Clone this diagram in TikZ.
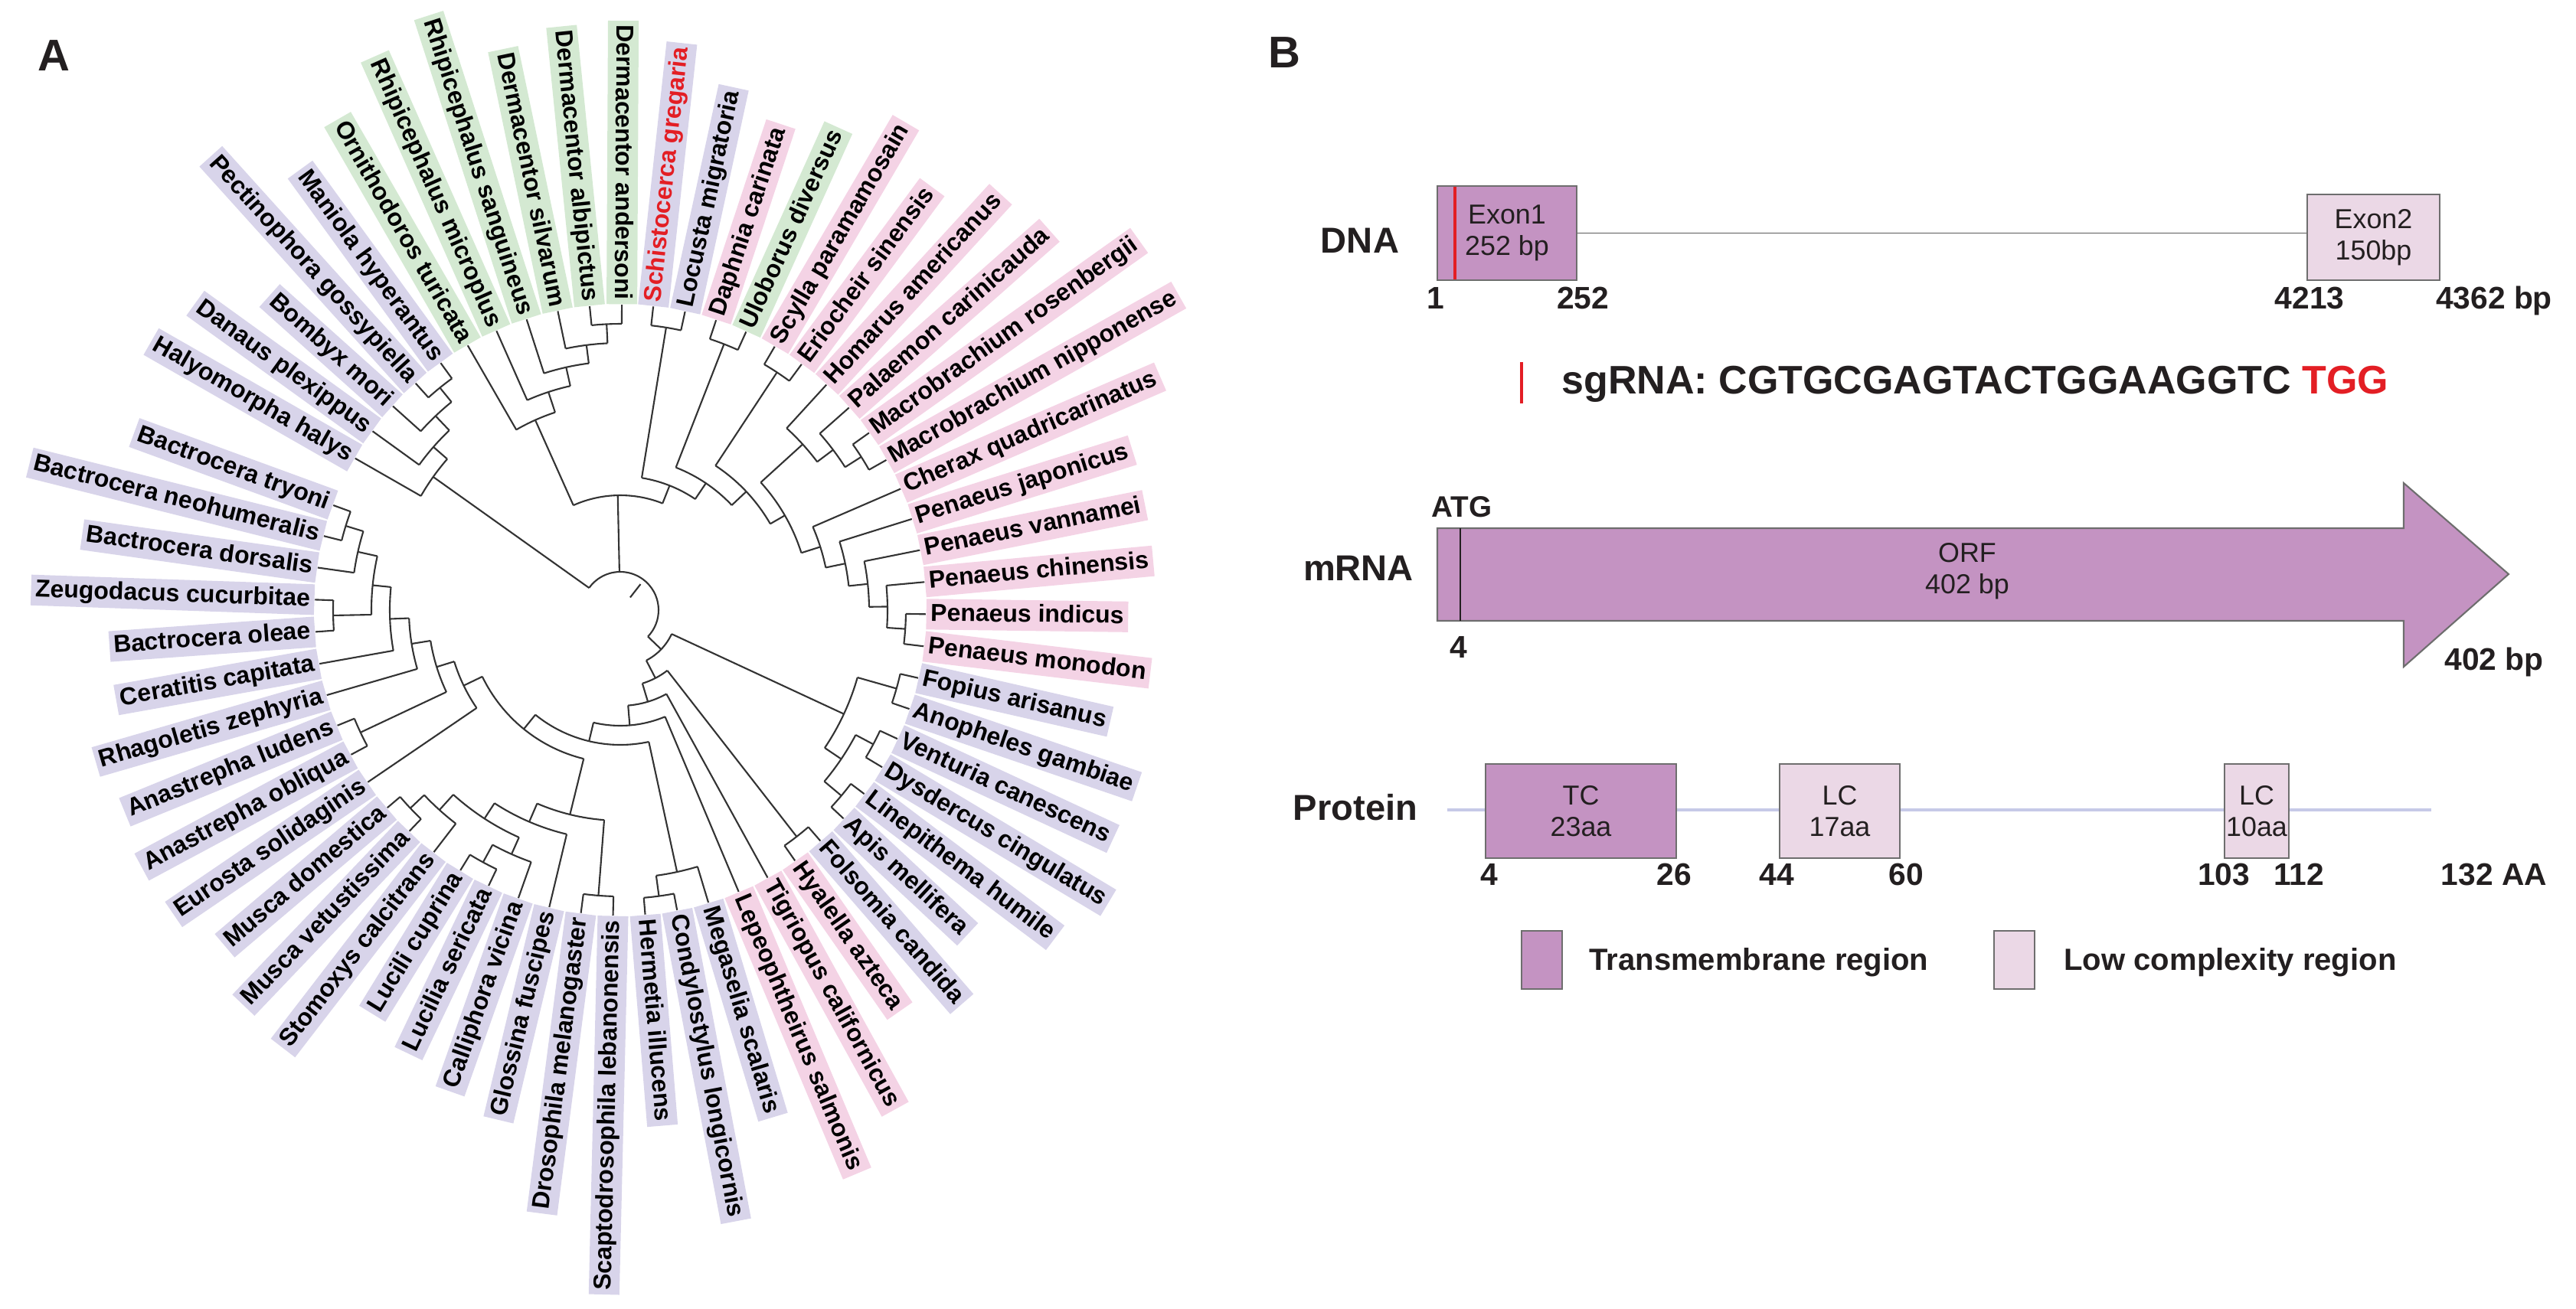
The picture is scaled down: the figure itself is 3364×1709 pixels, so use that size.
\documentclass[tikz,border=0pt]{standalone}
\usepackage{fontspec}
\setmainfont{Liberation Sans}

\definecolor{treeline}{HTML}{333333}
\definecolor{lav}{HTML}{D8D4EA}
\definecolor{pnk}{HTML}{F4D3E5}
\definecolor{grn}{HTML}{D4E9D2}
\definecolor{orf}{HTML}{C493C2}
\definecolor{lowc}{HTML}{EBD8E6}
\definecolor{boxgrey}{HTML}{6E6E6E}
\definecolor{protline}{HTML}{C6C9E7}
\definecolor{sgred}{HTML}{E31E24}
\definecolor{ink}{HTML}{231F20}

\newcommand\clade[3]{\draw[branch] (#2:#1) arc[start angle=#2, end angle=#3, radius=#1];}
\newcommand\twig[3]{\draw[branch] (#1:#2) -- (#1:#3);}
\newcommand\cherry[3]{\clade{#1}{#2}{#3}\twig{#2}{#1}{399}\twig{#3}{#1}{399}}

\begin{document}
\begin{tikzpicture}[x=0.1mm, y=0.1mm]
  \tikzstyle{branch} = [line width=0.6pt, draw=treeline]
  \tikzstyle{leaf label} = [font=\bfseries\fontsize{9.1}{10}\selectfont, text=black, inner xsep=1.6pt, inner ysep=0pt, minimum height=11.4pt, text height=6.9pt, text depth=2pt]
  \tikzstyle{panel letter} = [font=\bfseries\fontsize{16.5}{19}\selectfont, text=ink, anchor=base]
  \tikzstyle{row label} = [font=\bfseries\fontsize{13.4}{16}\selectfont, text=ink, anchor=base]
  \tikzstyle{pos num} = [font=\bfseries\fontsize{11.6}{14}\selectfont, text=ink, anchor=base]
  \tikzstyle{box text} = [font=\fontsize{10.2}{11.8}\selectfont, text=ink, align=center]
  \tikzstyle{region box} = [draw=boxgrey, line width=0.6pt, inner sep=0pt]
  \tikzstyle{legend text} = [font=\bfseries\fontsize{11.4}{14}\selectfont, text=ink, anchor=base west]

  \useasboundingbox (0,0) rectangle (3364,-1709);

  \node[panel letter] (panA) at (70,-92) {A};
  \node[panel letter] (panB) at (1677,-88) {B};

  % tree
  \begin{scope}[shift={(810,-797)}]
    \clade{50}{-43.79}{144.53}
    \twig{-43.79}{50}{74}
    \twig{91.25}{50}{150}
    \twig{144.53}{50}{300}
    \twig{52}{21}{43}

    \clade{300}{150.2}{138.86} \twig{150.2}{300}{399} \twig{138.86}{300}{324}
    \clade{324}{144.15}{133.56} \twig{144.15}{324}{399} \twig{133.56}{324}{350}
    \clade{350}{138.1}{129.03} \twig{138.1}{350}{399} \twig{129.03}{350}{374}
    \cherry{374}{132.05}{126.0}

    \clade{150}{114.09}{68.39} \twig{114.09}{150}{272} \twig{68.39}{150}{175}
    \clade{272}{119.95}{108.23} \twig{119.95}{272}{399} \twig{108.23}{272}{300}
    \clade{300}{113.9}{102.56} \twig{113.9}{300}{399} \twig{102.56}{300}{325}
    \clade{325}{107.85}{97.27} \twig{107.85}{325}{399} \twig{97.27}{325}{349}
    \clade{349}{101.8}{92.73} \twig{101.8}{349}{399} \twig{92.73}{349}{374}
    \cherry{374}{95.75}{89.7}

    \clade{175}{80.78}{55.99} \twig{80.78}{175}{374} \twig{55.99}{175}{200}
    \cherry{374}{83.8}{77.76}
    \clade{200}{68.7}{43.27} \twig{68.7}{200}{373} \twig{43.27}{200}{226}
    \cherry{373}{71.72}{65.68}
    \clade{226}{56.62}{29.92} \twig{56.62}{226}{372} \twig{29.92}{226}{248}
    \cherry{372}{59.64}{53.6}
    \clade{248}{42.28}{17.55} \twig{42.28}{248}{322} \twig{17.55}{248}{274}
    \clade{322}{47.56}{36.99} \twig{47.56}{322}{399} \twig{36.99}{322}{348}
    \clade{348}{41.52}{32.46} \twig{41.52}{348}{399} \twig{32.46}{348}{373}
    \cherry{373}{35.48}{29.44}
    \clade{274}{23.4}{11.7} \twig{23.4}{274}{399} \twig{11.7}{274}{300}
    \clade{300}{17.36}{6.04} \twig{17.36}{300}{399} \twig{6.04}{300}{325}
    \clade{325}{11.32}{0.75} \twig{11.32}{325}{399} \twig{0.75}{325}{349}
    \clade{349}{5.28}{-3.78} \twig{5.28}{349}{399} \twig{-3.78}{349}{373}
    \cherry{373}{-0.76}{-6.8}

    \clade{74}{-24.92}{-62.67} \twig{-24.92}{74}{322} \twig{-62.67}{74}{100}
    \clade{322}{-15.86}{-33.98} \twig{-15.86}{322}{375} \twig{-33.98}{322}{348}
    \cherry{375}{-12.84}{-18.88}
    \clade{348}{-27.94}{-40.02} \twig{-27.94}{348}{374} \twig{-40.02}{348}{377}
    \cherry{374}{-24.92}{-30.96}
    \cherry{377}{-37.0}{-43.04}
    \clade{100}{-52.1}{-73.23} \twig{-52.1}{100}{375} \twig{-73.23}{100}{125}
    \cherry{375}{-49.08}{-55.12}
    \clade{125}{-61.16}{-85.3} \twig{-61.16}{125}{399} \twig{-85.3}{125}{151}
    \clade{151}{-67.2}{-103.4} \twig{-67.2}{151}{399} \twig{-103.4}{151}{176}
    \clade{176}{-77.77}{-129.04} \twig{-77.77}{176}{350} \twig{-129.04}{176}{200}
    \clade{350}{-73.24}{-82.3} \twig{-73.24}{350}{399} \twig{-82.3}{350}{377}
    \cherry{377}{-79.28}{-85.32}
    \clade{200}{-103.82}{-154.26} \twig{-103.82}{200}{275} \twig{-154.26}{200}{227}
    \clade{275}{-94.38}{-113.26} \twig{-94.38}{275}{374} \twig{-113.26}{275}{301}
    \cherry{374}{-91.36}{-97.4}
    \clade{301}{-103.44}{-123.07} \twig{-103.44}{301}{399} \twig{-123.07}{301}{325}
    \clade{325}{-114.01}{-132.13} \twig{-114.01}{325}{349} \twig{-132.13}{325}{352}
    \clade{349}{-109.48}{-118.54} \twig{-109.48}{349}{399} \twig{-118.54}{349}{375}
    \cherry{375}{-115.52}{-121.56}
    \clade{352}{-127.6}{-136.66} \twig{-127.6}{352}{399} \twig{-136.66}{352}{377}
    \cherry{377}{-133.64}{-139.68}
    \clade{227}{-145.72}{-162.8} \twig{-145.72}{227}{399} \twig{-162.8}{227}{251}
    \clade{251}{-154.78}{-170.83} \twig{-154.78}{251}{375} \twig{-170.83}{251}{276}
    \cherry{375}{-151.76}{-157.8}
    \clade{276}{-163.84}{-177.81} \twig{-163.84}{276}{399} \twig{-177.81}{276}{301}
    \clade{301}{-169.88}{-185.74} \twig{-169.88}{301}{399} \twig{-185.74}{301}{325}
    \clade{325}{-178.94}{-192.53} \twig{-178.94}{325}{375} \twig{-192.53}{325}{351}
    \cherry{375}{-175.92}{-181.96}
    \clade{351}{-188.0}{-197.06} \twig{-188.0}{351}{399} \twig{-197.06}{351}{375}
    \cherry{375}{-194.04}{-200.08}

    \foreach \i/\spname/\bgc in {1/\textcolor{sgred}{Schistocerca gregaria}/lav, 2/Locusta migratoria/lav,
      3/Daphnia carinata/pnk, 4/Uloborus diversus/grn, 5/Scylla paramamosain/pnk,
      6/Eriocheir sinensis/pnk, 7/Homarus americanus/pnk, 8/Palaemon carinicauda/pnk,
      9/Macrobrachium rosenbergii/pnk, 10/Macrobrachium nipponense/pnk,
      11/Cherax quadricarinatus/pnk, 12/Penaeus japonicus/pnk, 13/Penaeus vannamei/pnk,
      14/Penaeus chinensis/pnk, 15/Penaeus indicus/pnk, 16/Penaeus monodon/pnk,
      17/Fopius arisanus/lav, 18/Anopheles gambiae/lav, 19/Venturia canescens/lav,
      20/Dysdercus cingulatus/lav, 21/Linepithema humile/lav, 22/Apis mellifera/lav,
      23/Folsomia candida/lav, 24/Hyalella azteca/pnk, 25/Tigriopus californicus/pnk,
      26/Lepeophtheirus salmonis/pnk, 27/Megaselia scalaris/lav,
      28/Condylostylus longicornis/lav, 29/Hermetia illucens/lav,
      30/Scaptodrosophila lebanonensis/lav, 31/Drosophila melanogaster/lav,
      32/Glossina fuscipes/lav, 33/Calliphora vicina/lav, 34/Lucilia sericata/lav,
      35/Lucili cuprina/lav, 36/Stomoxys calcitrans/lav, 37/Musca vetustissima/lav,
      38/Musca domestica/lav, 39/Eurosta solidaginis/lav, 40/Anastrepha obliqua/lav,
      41/Anastrepha ludens/lav, 42/Rhagoletis zephyria/lav, 43/Ceratitis capitata/lav,
      44/Bactrocera oleae/lav, 45/Zeugodacus cucurbitae/lav, 46/Bactrocera dorsalis/lav,
      47/Bactrocera neohumeralis/lav, 48/Bactrocera tryoni/lav, 49/Halyomorpha halys/lav,
      50/Danaus plexippus/lav, 51/Bombyx mori/lav, 52/Pectinophora gossypiella/lav,
      53/Maniola hyperantus/lav, 54/Ornithodoros turicata/grn,
      55/Rhipicephalus microplus/grn, 56/Rhipicephalus sanguineus/grn,
      57/Dermacentor silvarum/grn, 58/Dermacentor albipictus/grn,
      59/Dermacentor andersoni/grn} {
      \pgfmathsetmacro\ang{\i<49 ? 83.8-6.04*(\i-1) : 150.2-6.05*(\i-49)}
      \pgfmathsetmacro\rot{\ang+180}
      \ifnum\i<30
        \node[leaf label, fill=\bgc, anchor=west, rotate=\ang] (lf\i) at (\ang:399) {\spname};
      \else
        \node[leaf label, fill=\bgc, anchor=east, rotate=\rot] (lf\i) at (\ang:399) {\spname};
      \fi
    }
  \end{scope}

  % DNA
  \node[row label] (dna) at (1776,-330) {DNA};
  \node[region box, fill=orf, minimum width=18.2mm, minimum height=12.3mm] (ex1) at (1968,-304.5) {};
  \node[box text] (ex1t) at (ex1) {Exon1\\252 bp};
  \draw[sgred, line width=1.1pt] (1900,-244) -- (1900,-365);
  \node[region box, fill=lowc, minimum width=17.3mm, minimum height=11.2mm] (ex2) at (3099.5,-310) {};
  \node[box text] (ex2t) at (ex2) {Exon2\\150bp};
  \draw[black!65, line width=0.5pt] (ex1.east) -- (ex1.east -| ex2.west);
  \node[pos num] (d1) at (1875,-403) {1};
  \node[pos num] (d252) at (2067,-403) {252};
  \node[pos num] (d4213) at (3016,-403) {4213};
  \node[pos num] (d4362) at (3257,-403) {4362 bp};

  % sgRNA
  \draw[sgred, line width=1.2pt] (1987,-473) -- (1987,-527);
  \node[font=\bfseries\fontsize{14.8}{17}\selectfont, text=ink, anchor=base west] (sg) at (2027,-514) {sgRNA: CGTGCGAGTACTGGAAGGTC \textcolor{sgred}{TGG}};

  % mRNA
  \node[row label] (mrna) at (1774,-758) {mRNA};
  \node[font=\bfseries\fontsize{11}{13}\selectfont, text=ink, anchor=base] (atg) at (1909,-675) {ATG};
  \draw[boxgrey, line width=0.6pt, fill=orf] (1877,-690) -- (3139,-690) -- (3139,-631) -- (3276,-750) -- (3139,-871) -- (3139,-811) -- (1877,-811) -- cycle;
  \draw[ink, line width=0.8pt] (1907,-690) -- (1907,-811);
  \node[box text] (orfl) at (2569,-746) {ORF\\402 bp};
  \node[pos num] (m4) at (1905,-859) {4};
  \node[pos num] (m402) at (3257,-875) {402 bp};

  % protein
  \node[row label] (prot) at (1770,-1071) {Protein};
  \draw[protline, line width=0.9pt] (1890,-1058) -- (3175,-1058);
  \node[region box, fill=orf, minimum width=24.9mm, minimum height=12.3mm] (tc) at (2064.5,-1059.5) {};
  \node[box text] (tct) at (tc) {TC\\23aa};
  \node[region box, fill=lowc, minimum width=15.7mm, minimum height=12.3mm] (lc1) at (2402.5,-1059.5) {};
  \node[box text] (lc1t) at (lc1) {LC\\17aa};
  \node[region box, fill=lowc, minimum width=8.4mm, minimum height=12.3mm] (lc2) at (2947,-1059.5) {};
  \node[box text] (lc2t) at (lc2) {LC\\10aa};
  \node[pos num] (p4) at (1945,-1156) {4};
  \node[pos num] (p26) at (2186,-1156) {26};
  \node[pos num] (p44) at (2320,-1156) {44};
  \node[pos num] (p60) at (2489,-1156) {60};
  \node[pos num] (p103) at (2904,-1156) {103};
  \node[pos num] (p112) at (3002,-1156) {112};
  \node[pos num] (p132) at (3257,-1156) {132 AA};

  % legend
  \node[region box, fill=orf, minimum width=5.3mm, minimum height=7.6mm] (lg1) at (2013.5,-1254) {};
  \node[legend text] (lg1t) at (2063,-1267) {Transmembrane region};
  \node[region box, fill=lowc, minimum width=5.3mm, minimum height=7.6mm] (lg2) at (2630.5,-1254) {};
  \node[legend text] (lg2t) at (2683,-1267) {Low complexity region};
\end{tikzpicture}
\end{document}
